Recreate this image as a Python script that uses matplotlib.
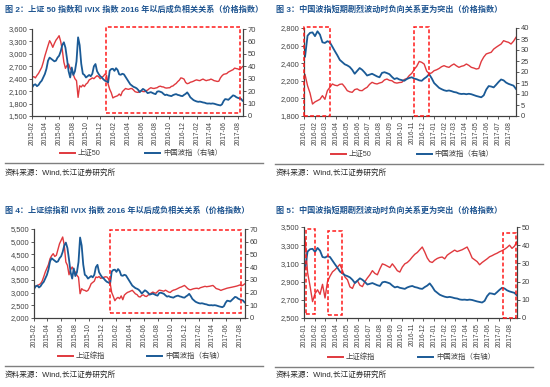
import numpy as np
import pandas as pd
import matplotlib
matplotlib.use('Agg')
import matplotlib.pyplot as plt
from matplotlib.patches import Rectangle
from matplotlib.lines import Line2D
from matplotlib.transforms import blended_transform_factory
from matplotlib.ticker import FuncFormatter
import matplotlib.dates as mdates

plt.rcParams['font.family'] = ['Liberation Sans', 'Noto Sans CJK SC']

# ---------------- data (weekly) ----------------
dates = pd.date_range('2015-02-02', periods=134, freq='7D')

ivix = [
    23.1, 25.0, 25.5, 24.0, 25.0, 27.0, 28.4, 31.0, 33.8, 38.0,
    44.5, 47.0, 46.0, 45.0, 44.0, 44.5, 47.0, 48.5, 52.0, 57.0,
    59.3, 55.0, 46.0, 36.0, 31.0, 39.0, 33.0, 36.0, 44.0, 63.3,
    57.0, 42.0, 34.0, 33.0, 31.0, 32.0, 33.0, 32.0, 34.0, 40.0,
    41.8, 36.0, 33.8, 32.0, 31.0, 29.5, 28.4, 27.9,
    27.0, 36.5, 37.8, 38.0, 36.3, 38.5, 37.0, 33.5, 33.2, 34.0,
    33.5, 31.5, 29.5, 27.6, 25.5, 24.5, 23.5, 23.0, 22.3, 21.0,
    19.2, 20.5, 21.8, 21.0, 19.8, 18.4, 18.8, 19.2, 18.6, 18.0,
    17.6, 19.6, 19.9, 19.5, 19.0, 17.8, 16.8, 17.2, 16.6, 16.3,
    16.0, 16.8, 17.3, 17.6, 17.0, 16.7, 16.2, 16.0, 17.0, 17.8,
    19.0, 17.2, 15.0, 13.9, 12.8, 12.2, 11.7, 11.4, 11.6, 11.3,
    10.9, 10.7, 10.2, 10.0, 10.1, 9.9, 10.1, 9.9, 9.5, 9.1,
    8.8, 8.5, 9.4, 12.0, 13.6, 13.4, 13.0, 14.2, 15.5, 16.6,
    16.2, 15.2, 14.6, 14.2, 13.8, 12.3]

sz50 = [
    2433, 2450, 2420, 2480, 2530, 2600, 2675, 2800, 2950, 3077,
    3200, 3318, 3250, 3158, 3250, 3330, 3380, 3438, 3300, 3100,
    2800, 2650, 2720, 2755, 2650, 2594, 2500, 2400, 2352, 1950,
    2230, 2200, 2250, 2210, 2270, 2300, 2370, 2392, 2420, 2400,
    2440, 2472, 2450, 2400, 2433, 2460, 2513, 2480,
    2270, 2144, 2060, 1936, 1960, 1975, 1990, 2031, 1990, 2088,
    2126, 2164, 2150, 2144, 2160, 2164, 2130, 2088, 2075, 2069,
    2100, 2108, 2090, 2088, 2110, 2126, 2160, 2183, 2170, 2164,
    2175, 2183, 2210, 2220, 2205, 2201, 2180, 2174, 2180, 2183,
    2215, 2225, 2260, 2285, 2330, 2365, 2420, 2410, 2390, 2310,
    2280, 2290, 2315, 2325, 2340, 2360, 2372, 2360, 2353, 2375,
    2391, 2370, 2353, 2365, 2372, 2391, 2375, 2353, 2345, 2334,
    2340, 2420, 2470, 2505, 2515, 2524, 2560, 2581, 2600, 2618,
    2656, 2645, 2637, 2618, 2650, 2694]

szzz = [
    3219, 3250, 3280, 3310, 3349, 3450, 3620, 3809, 3960, 4100,
    4332, 4450, 4529, 4420, 4466, 4700, 4922, 5050, 5185, 4859,
    4202, 4072, 3700, 3900, 4006, 3876, 3800, 3679, 3600, 2956,
    3152, 3100, 3087, 3050, 3087, 3200, 3349, 3400, 3450, 3612,
    3590, 3630, 3560, 3580, 3600, 3620, 3612, 3540,
    3375, 3000, 2850, 2680, 2768, 2810, 2760, 2870, 2720, 2900,
    2960, 3007, 3030, 3060, 3090, 3020, 2950, 2920, 2842, 2825,
    2890, 2910, 2860, 2845, 2900, 2940, 2975, 3020, 2990, 2975,
    3040, 3095, 3085, 3070, 3055, 3095, 3060, 3020, 3005, 3060,
    3095, 3110, 3136, 3170, 3200, 3220, 3250, 3280, 3225, 3160,
    3120, 3110, 3136, 3154, 3165, 3170, 3150, 3190, 3210, 3228,
    3246, 3230, 3240, 3250, 3265, 3280, 3225, 3160, 3140, 3120,
    3085, 3110, 3130, 3150, 3173, 3185, 3200, 3212, 3228, 3240,
    3255, 3275, 3300, 3265, 3290, 3338]

titles = [
    "图 2：上证 50 指数和 iVIX 指数 2016 年以后成负相关关系（价格指数）",
    "图 3：中国波指短期剧烈波动时负向关系更为突出（价格指数）",
    "图 4：上证综指和 iVIX 指数 2016 年以后成负相关关系（价格指数）",
    "图 5：中国波指短期剧烈波动时负向关系更为突出（价格指数）",
]
left_names = ["上证50", "上证50", "上证综指", "上证综指"]
right_name = "中国波指（右轴）"
source = "资料来源：Wind,长江证券研究所"

ticks_long = pd.date_range('2015-02-01', '2017-08-01', freq='2MS')
ticks_short = pd.date_range('2016-01-01', '2017-08-01', freq='MS')

# highlighted periods (start, end) per panel
boxes = [
    [("2015-12-26", "2017-08-11")],
    [("2016-01-01", "2016-03-13"), ("2016-11-06", "2016-12-18")],
    [("2016-01-02", "2017-08-06")],
    [("2016-01-07", "2016-02-01"), ("2016-03-07", "2016-04-16"), ("2017-07-14", "2017-08-18")],
]

# ---------------- styling ----------------
W, H = 550, 387
RED = '#E0393E'
BLUE = '#1A5A96'
TITLE_C = '#1F5591'
TXT = '#404040'
BOXC = '#FF1A1A'

fig = plt.figure(figsize=(W / 100, H / 100), dpi=100)


def frac(l, t, r, b):
    return [l / W, 1 - b / H, (r - l) / W, (b - t) / H]


df = pd.DataFrame({'ivix': ivix, 'sz50': sz50, 'szzz': szzz}, index=dates)

panels = [
    dict(pos=(32, 29, 243, 116), col='sz50', start='2015-02-01', xlim=('2015-02-01', '2017-08-23'),
         ticks=ticks_long, ly=(1500, 3600, 300), ry=(0, 70, 10),
         box_y=[(0.034, 1.026)],
         title_xy=(5, 10), leg=(60, 77, 145, 162, 153), sep=(5, 263, 163), src=(5, 173)),
    dict(pos=(304, 28, 516, 116), col='sz50', start='2016-01-04', xlim=('2016-01-01', '2017-08-21'),
         ticks=ticks_short, ly=(1800, 2800, 200), ry=(0, 40, 5),
         box_y=[(0.004, 1.008), (0.004, 1.008)],
         title_xy=(276, 10), leg=(331, 348, 417, 433, 154), sep=(275, 543, 164), src=(276, 173)),
    dict(pos=(34, 229, 245, 318), col='szzz', start='2015-02-01', xlim=('2015-02-01', '2017-08-23'),
         ticks=ticks_long, ly=(2000, 5500, 500), ry=(0, 70, 10),
         box_y=[(0.056, 0.99)],
         title_xy=(5, 211), leg=(58, 75, 147, 164, 356), sep=(5, 263, 366), src=(5, 375)),
    dict(pos=(304, 227, 517, 318), col='szzz', start='2016-01-04', xlim=('2016-01-01', '2017-08-21'),
         ticks=ticks_short, ly=(2500, 3500, 200), ry=(0, 50, 10),
         box_y=[(0.047, 0.978), (0.03, 0.959), (0.0, 0.929)],
         title_xy=(276, 211), leg=(328, 345, 418, 435, 357), sep=(275, 533, 367), src=(276, 375)),
]

thou = FuncFormatter(lambda v, p: f"{v:,.0f}")

for k, p in enumerate(panels):
    sub = df[df.index >= pd.Timestamp(p['start'])]
    ax = fig.add_axes(frac(*p['pos']))
    ax2 = ax.twinx()
    ax.plot(sub.index, sub[p['col']], color=RED, lw=1.0, solid_joinstyle='round')
    ax2.plot(sub.index, sub['ivix'], color=BLUE, lw=1.3, solid_joinstyle='round')

    ax.set_xlim(pd.Timestamp(p['xlim'][0]), pd.Timestamp(p['xlim'][1]))
    lo, hi, st = p['ly']
    ax.set_ylim(lo, hi)
    ax.set_yticks(np.arange(lo, hi + 1, st))
    ax.yaxis.set_major_formatter(thou)
    rlo, rhi, rst = p['ry']
    ax2.set_ylim(rlo, rhi)
    ax2.set_yticks(np.arange(rlo, rhi + 0.1, rst))

    ax.set_xticks(p['ticks'])
    ax.set_xticklabels([d.strftime('%Y-%m') for d in p['ticks']], rotation=90,
                       fontsize=4.7, color=TXT)
    ax.tick_params(axis='x', length=2, width=0.6, pad=1.5, colors='#404040')
    ax.tick_params(axis='y', labelsize=5.4, length=2, width=0.6, pad=1.5, colors='#404040')
    ax2.tick_params(axis='y', labelsize=5.4, length=2, width=0.6, pad=1.5, colors='#404040')
    for a in (ax, ax2):
        a.spines['top'].set_visible(False)
        for s in ('left', 'right', 'bottom'):
            a.spines[s].set_color('#404040')
            a.spines[s].set_linewidth(0.8)
        a.patch.set_visible(False)

    tr = blended_transform_factory(ax.transData, ax.transAxes)
    for (s, e), (yb, yt) in zip(boxes[k], p['box_y']):
        x0 = mdates.date2num(pd.Timestamp(s))
        x1 = mdates.date2num(pd.Timestamp(e))
        ax2.add_patch(Rectangle((x0, yb), x1 - x0, yt - yb, transform=tr, fill=False,
                                edgecolor=BOXC, lw=1.1, ls=(0, (2.5, 1.5)), clip_on=False,
                                zorder=5))

    # title
    tx, ty = p['title_xy']
    fig.text(tx / W, 1 - ty / H, titles[k], fontsize=5.85, color=TITLE_C,
             ha='left', va='center', fontweight='bold')
    # legend
    r0, rt, b0, bt, ly = p['leg']
    yl = 1 - ly / H
    fig.add_artist(Line2D([r0 / W, (r0 + 15) / W], [yl, yl], color=RED, lw=1.4))
    fig.text((rt + 1) / W, yl, left_names[k], fontsize=5.3, color=TXT, ha='left', va='center')
    fig.add_artist(Line2D([b0 / W, (b0 + 15) / W], [yl, yl], color=BLUE, lw=1.4))
    fig.text((bt + 1) / W, yl, right_name, fontsize=5.3, color=TXT, ha='left', va='center')
    # separator
    sx0, sx1, sy = p['sep']
    fig.add_artist(Line2D([sx0 / W, sx1 / W], [1 - sy / H, 1 - sy / H], color='#7F7F7F', lw=1.0))
    # source
    sx, syy = p['src']
    fig.text(sx / W, 1 - syy / H, source, fontsize=5.5, color='#262626', ha='left', va='center')

fig.savefig('out.png', dpi=100)
